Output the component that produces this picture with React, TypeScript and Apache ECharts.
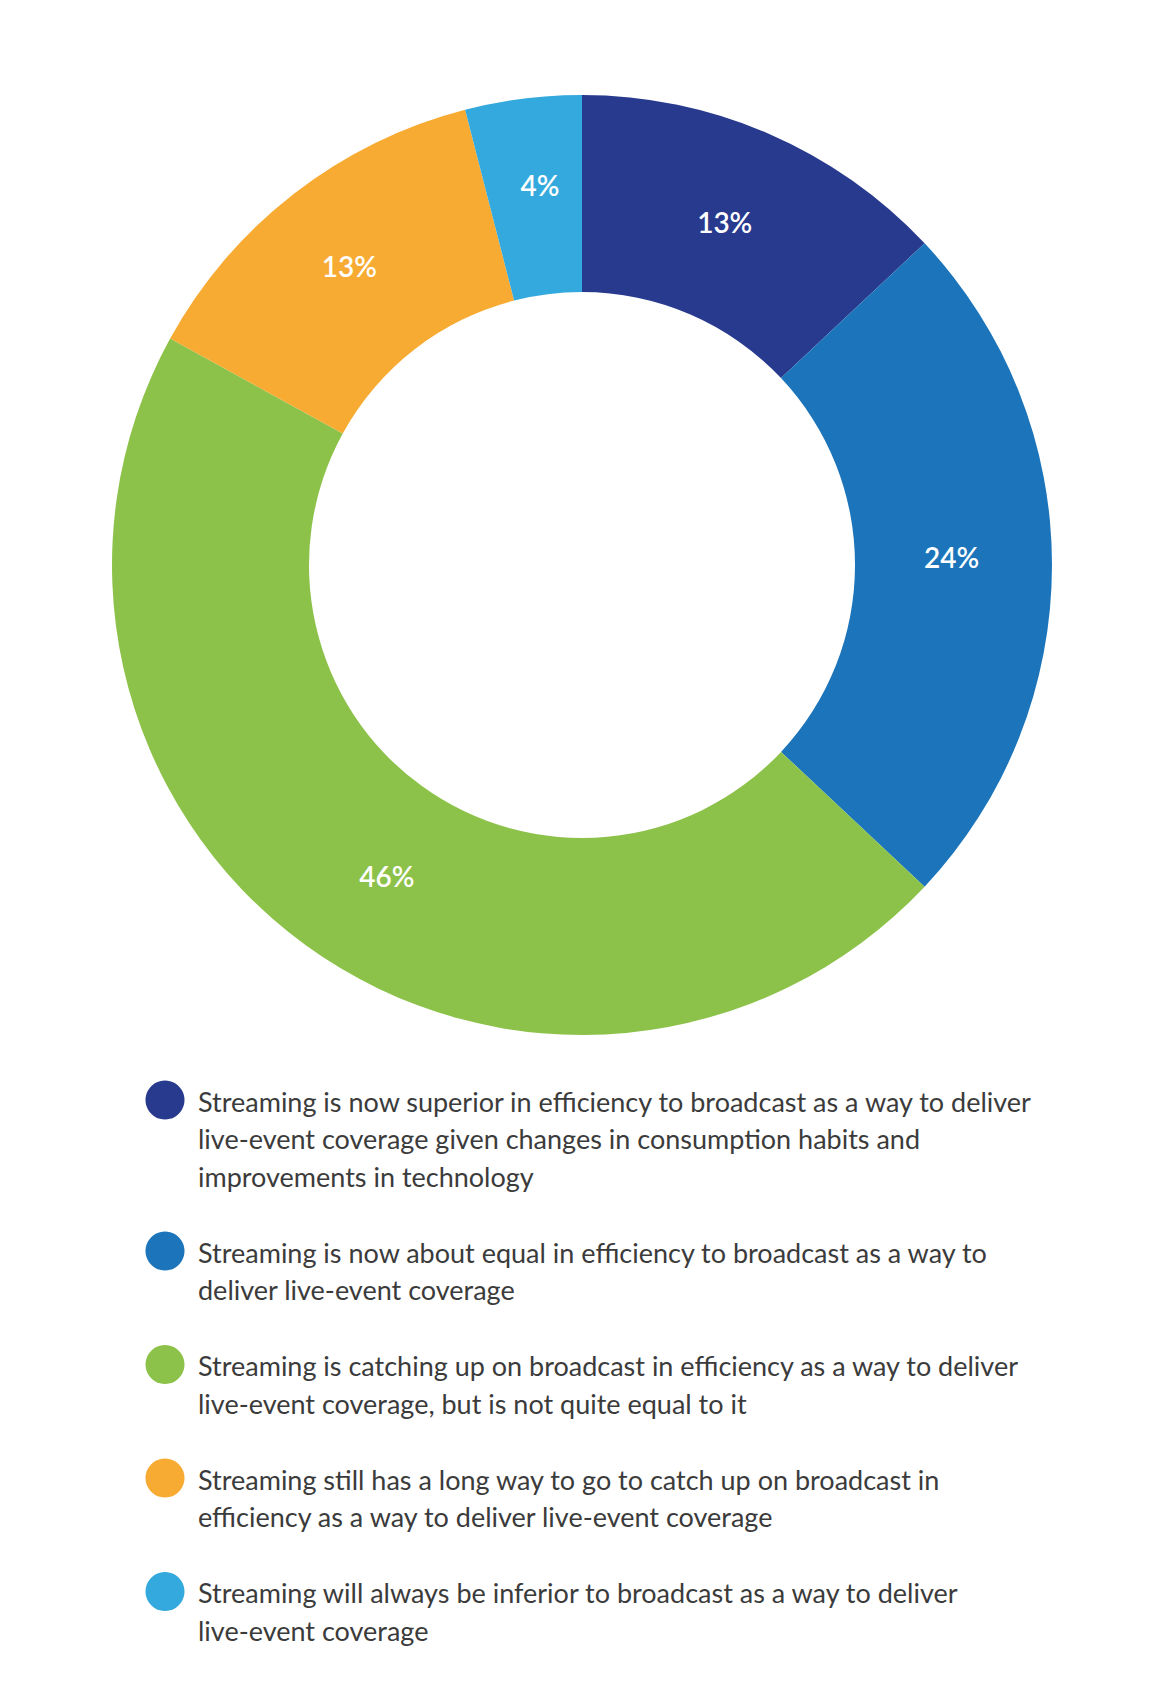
import React, { useEffect, useRef } from "react";
import * as echarts from "echarts";

const categories: string[] = [
  "Streaming is now superior in efficiency to broadcast as a way to deliver\nlive-event coverage given changes in consumption habits and\nimprovements in technology",
  "Streaming is now about equal in efficiency to broadcast as a way to\ndeliver live-event coverage",
  "Streaming is catching up on broadcast in efficiency as a way to deliver\nlive-event coverage, but is not quite equal to it",
  "Streaming still has a long way to go to catch up on broadcast in\nefficiency as a way to deliver live-event coverage",
  "Streaming will always be inferior to broadcast as a way to deliver\nlive-event coverage",
];
const values: number[] = [13, 24, 46, 13, 4];
const colors: string[] = ["#283A8E", "#1C75BA", "#8DC24A", "#F8AB33", "#33A9DD"];
// small manual nudges of the percentage labels, as in the original artwork
const labelNudges: number[][] = [[-6, 1], [-5, -8], [25, 8], [-3, -3], [5, -8]];

export default function App() {
  const ref = useRef<HTMLDivElement>(null);
  useEffect(() => {
    if (!ref.current) return;
    const chart = echarts.init(ref.current, null, { renderer: "svg" });
    const font = "Lato";
    const lineH = 37.5;
    const itemGap = 38.5;
    let y = 1100;
    const legendEls: any[] = [];
    categories.forEach((c, i) => {
      const nLines = c.split("\n").length;
      legendEls.push({
        type: "circle",
        shape: { cx: 165, cy: y, r: 19.5 },
        style: { fill: colors[i] },
      });
      legendEls.push({
        type: "text",
        x: 198,
        y: y - lineH / 2 + 1,
        style: {
          text: c,
          fill: "#3b3b3b",
          fontFamily: font,
          fontSize: 27,
          lineHeight: lineH,
          verticalAlign: "top",
          align: "left",
        },
      });
      y += nLines * lineH + itemGap;
    });
    chart.setOption({
      animation: false,
      backgroundColor: "#ffffff",
      series: [
        {
          type: "pie",
          center: [582, 565],
          radius: [273, 470],
          startAngle: 90,
          clockwise: true,
          avoidLabelOverlap: false,
          label: {
            show: true,
            position: "inside",
            formatter: "{c}%",
            color: "#ffffff",
            fontFamily: font,
            fontSize: 28,
            fontWeight: 600,
          },
          labelLine: { show: false },
          emphasis: { disabled: true },
          data: values.map((v, i) => ({
            name: categories[i].replace(/\n/g, " "),
            value: v,
            itemStyle: { color: colors[i] },
            label: { offset: labelNudges[i] },
          })),
        },
      ],
      graphic: legendEls,
    });
    return () => chart.dispose();
  }, []);
  return (
    <div
      ref={ref}
      style={{ position: "fixed", left: 0, top: 0, width: 1156, height: 1706 }}
    />
  );
}
